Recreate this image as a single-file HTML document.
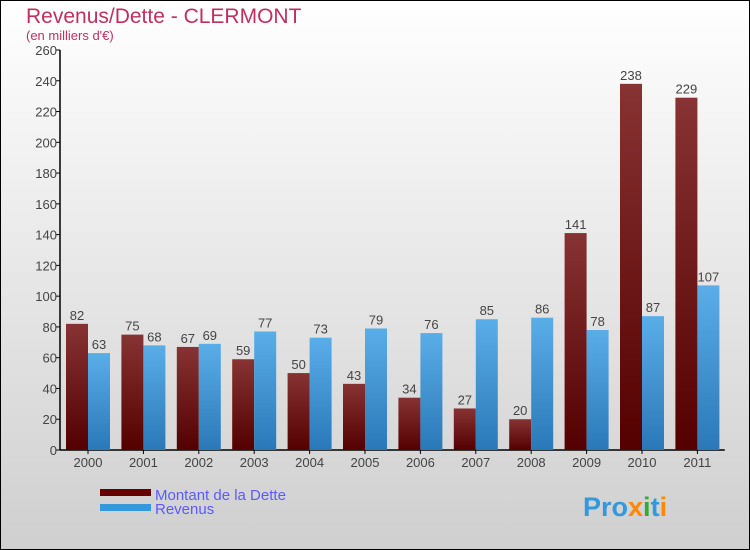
<!DOCTYPE html>
<html><head><meta charset="utf-8"><style>
body{margin:0}
svg{display:block;font-family:"Liberation Sans",sans-serif}
</style></head><body>
<svg width="750" height="550" xmlns="http://www.w3.org/2000/svg">
<defs>
<linearGradient id="bg" x1="0" y1="0" x2="0" y2="1"><stop offset="0" stop-color="#ffffff"/><stop offset="1" stop-color="#cfcfcf"/></linearGradient>
<linearGradient id="gd" x1="0" y1="0" x2="0" y2="1"><stop offset="0" stop-color="#883333"/><stop offset="1" stop-color="#550000"/></linearGradient>
<linearGradient id="gr" x1="0" y1="0" x2="0" y2="1"><stop offset="0" stop-color="#5aaee8"/><stop offset="1" stop-color="#2a78b8"/></linearGradient>
</defs>
<rect x="0.5" y="0.5" width="749" height="549" fill="url(#bg)" stroke="#000"/>
<text x="26" y="23" font-size="21" fill="#c0305f">Revenus/Dette - CLERMONT</text>
<text x="26" y="40" font-size="13" fill="#c0305f">(en milliers d'€)</text>
<g id="axes"></g>
<g id="bars"></g>
<rect x="100" y="489" width="51" height="7" fill="#660000"/>
<text x="155" y="500" font-size="15" fill="#5a5aff">Montant de la Dette</text>
<rect x="100" y="504" width="51" height="7" fill="#3399dd"/>
<text x="155" y="514" font-size="15" fill="#5a5aff">Revenus</text>
<text x="583" y="516" font-size="27" font-weight="bold" fill="#3399dd">Pro<tspan fill="#ff8800">x</tspan><tspan fill="#33aa33">i</tspan>t<tspan fill="#ff8800">i</tspan></text>
</svg>
<script>
const years=["2000","2001","2002","2003","2004","2005","2006","2007","2008","2009","2010","2011"];
const dette=[82,75,67,59,50,43,34,27,20,141,238,229];
const revenus=[63,68,69,77,73,79,76,85,86,78,87,107];
const yTicks=[0,20,40,60,80,100,120,140,160,180,200,220,240,260];
const NS="http://www.w3.org/2000/svg";
const x0=60,step=55.4,bw=22,yBase=450,yTop=50,yMax=260;
function y(v){return yBase-(v/yMax)*(yBase-yTop);}
function gx(i){return x0+6+i*step;}
function mk(t,a,p,txt){const e=document.createElementNS(NS,t);for(const k in a)e.setAttribute(k,a[k]);if(txt!==undefined)e.textContent=txt;p.appendChild(e);return e;}
const ax=document.getElementById('axes'),bars=document.getElementById('bars');
let e=mk('line',{x1:x0,y1:yTop,x2:x0,y2:yBase,stroke:'#000','stroke-width':1.5},ax);


e=mk('line',{x1:x0,y1:yBase,x2:x0+12*step,y2:yBase,stroke:'#000','stroke-width':1.5},ax);


yTicks.forEach(t=>{
 mk('line',{x1:x0-4,y1:y(t),x2:x0,y2:y(t),stroke:'#000'},ax);
 const l=mk('text',{x:x0-3,y:y(t)+5,'font-size':13,fill:'#444','text-anchor':'end'},ax,t);
 
 
});
years.forEach((yr,i)=>{
 const l=mk('text',{x:gx(i)+bw,y:467,'font-size':13,fill:'#444','text-anchor':'middle'},ax,yr);
 
 
 mk('line',{x1:gx(i)+bw,y1:yBase,x2:gx(i)+bw,y2:yBase+4,stroke:'#000'},ax);
 const b1=mk('rect',{x:gx(i),y:y(dette[i]),width:bw,height:yBase-y(dette[i]),fill:'url(#gd)'},bars);
 
 
 const b2=mk('rect',{x:gx(i)+bw,y:y(revenus[i]),width:bw,height:yBase-y(revenus[i]),fill:'url(#gr)'},bars);
 
 
 const v1=mk('text',{x:gx(i)+bw/2,y:y(dette[i])-4,'font-size':13,fill:'#444','text-anchor':'middle'},bars,dette[i]);
 
 
 const v2=mk('text',{x:gx(i)+bw*1.5,y:y(revenus[i])-4,'font-size':13,fill:'#444','text-anchor':'middle'},bars,revenus[i]);
 
 
});
</script>
</body></html>
